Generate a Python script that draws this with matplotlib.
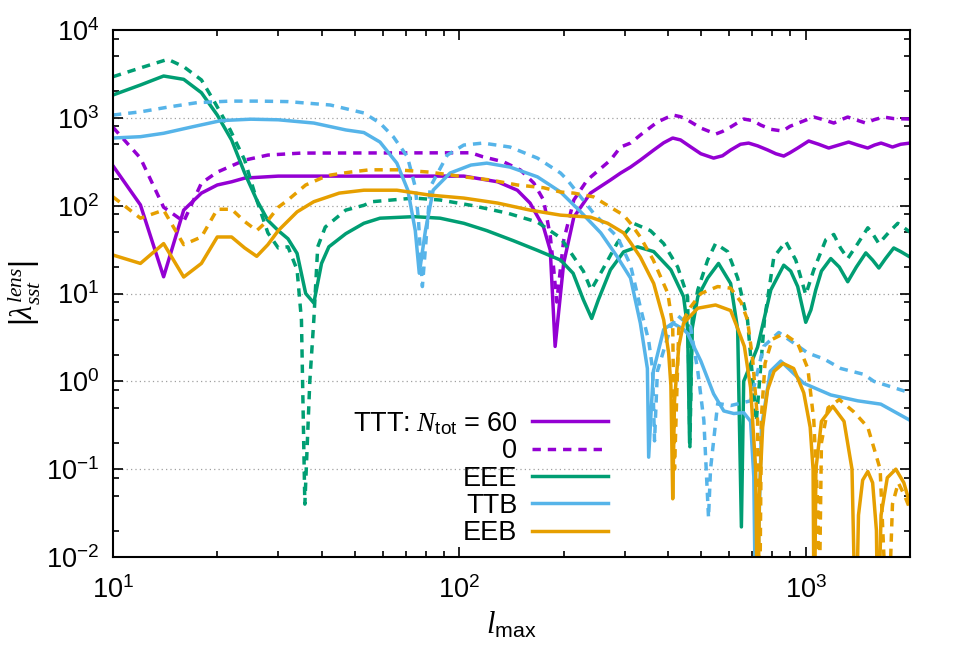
import matplotlib
matplotlib.use('Agg')
import matplotlib.pyplot as plt
from matplotlib.lines import Line2D
from matplotlib.ticker import LogLocator, NullFormatter

plt.rcParams['font.family'] = ['Liberation Sans', 'DejaVu Sans']
plt.rcParams['mathtext.fontset'] = 'custom'
plt.rcParams['mathtext.rm'] = 'Liberation Sans'
plt.rcParams['mathtext.it'] = 'Liberation Serif:italic'
plt.rcParams['mathtext.bf'] = 'Liberation Sans:bold'
plt.rcParams['mathtext.sf'] = 'Liberation Sans'

# TTT, N_tot = 60 (solid) and 0 (dashed)
ttt60_l = [10, 12, 14, 16, 18, 20, 22, 24, 30, 60, 103, 129, 147, 160, 175, 183, 189, 200, 214, 239,
           273, 292, 312, 333, 364, 389, 413, 435, 466, 498, 542, 575, 607, 648, 684, 726, 777, 820, 864, 900,
           948, 1020, 1090, 1165, 1245, 1330, 1413, 1510, 1580, 1650, 1715, 1780, 1880, 2000]
ttt60 = [284, 102, 15.5, 89, 139, 172, 187, 206, 217, 217, 217, 187, 150, 107, 57, 31, 2.5, 22, 74, 139,
         196, 235, 275, 330, 430, 520, 589, 560, 465, 390, 348, 370, 430, 500, 516, 480, 430, 390, 367, 400,
         453, 545, 500, 453, 490, 530, 490, 453, 490, 516, 490, 465, 500, 516]
ttt0_l = [10, 12, 14, 16, 18, 20, 24, 28, 35, 108, 117, 134, 150, 164, 175, 183, 187, 191, 200, 214,
          234, 273, 292, 312, 333, 373, 413, 435, 456, 498, 550, 575, 607, 662, 703, 741, 793, 858, 900, 968,
          1055, 1128, 1205, 1263, 1322, 1395, 1490, 1573, 1679, 1795, 2000]
ttt0 = [780, 348, 96, 66, 181, 241, 330, 377, 397, 400, 360, 316, 255, 181, 116, 45, 20, 8, 40, 116,
        196, 330, 465, 516, 637, 896, 1077, 1030, 944, 765, 654, 700, 786, 969, 930, 828, 740, 707, 800, 896,
        1021, 950, 872, 950, 1021, 950, 872, 950, 1021, 980, 969]

# EEE
eee60_l = [10, 12, 14, 16, 18, 20, 22, 24, 26, 28, 30, 32, 34, 36, 38, 40, 42, 47, 53, 59,
           74, 88, 103, 120, 143, 168, 196, 213, 228, 241, 252, 273, 298, 327, 364, 408, 444, 456, 462, 470,
           488, 521, 560, 607, 636, 652, 662, 726, 793, 864, 905, 948, 1000, 1035, 1069, 1110, 1181, 1250, 1322, 1400,
           1491, 1560, 1626, 1700, 1795, 1880, 2000]
eee60 = [1820, 2365, 2993, 2744, 1932, 1076, 559, 235, 116, 68, 52, 42, 28.6, 10, 7.8, 22, 34, 48, 63, 72,
         75, 72, 63, 52, 40, 31, 24, 17, 8.5, 5.2, 8.5, 18.6, 29.8, 34, 30, 18.6, 9.2, 4, 0.2, 4,
         9.2, 15, 22, 13, 3.9, 0.022, 1.0, 2.45, 11, 21, 18, 12, 4.7, 6.5, 11, 18, 25, 20, 13.6, 20,
         29, 24, 19.5, 25, 33, 30, 26]
eee0_l = [10, 12, 14.4, 16, 18, 19.5, 21.8, 24, 26, 28, 30, 32, 34, 35, 35.8, 37, 38, 39, 41, 47,
          53, 56, 74, 88, 108, 138, 168, 196, 210, 228, 240, 259, 286, 318, 356, 389, 427, 456, 463, 470,
          488, 521, 549, 595, 636, 679, 720, 760, 809, 876, 936, 1000, 1055, 1143, 1205, 1260, 1322, 1413, 1511, 1560,
          1626, 1740, 1844, 2000]
eee0 = [2940, 3700, 4640, 3820, 2700, 1590, 728, 330, 116, 49, 33, 34, 18.6, 5, 0.04, 1, 5, 34, 57, 89,
        101, 111, 122, 116, 101, 82, 65, 43, 29, 18, 11, 18.6, 38, 63, 52, 37, 20, 9.2, 0.18, 5,
        11, 24, 37, 30, 15, 5, 0.35, 5, 26, 39, 24, 9.7, 18.6, 41, 47, 33, 25, 37, 56, 48,
        37, 50, 63, 50]

# TTB
ttb60_l = [10, 12, 14, 17, 20.5, 25, 30, 38, 47, 53, 59, 66, 71, 74.6, 76.6, 79.8, 84, 94, 108, 120,
           140, 168, 196, 224, 256, 286, 312, 333, 349, 352, 363, 389, 413, 444, 456, 498, 542, 580, 620, 662,
           693, 708, 718, 745, 790, 847, 987, 1181, 1413, 1647, 2000]
ttb60 = [589, 610, 667, 792, 930, 965, 950, 872, 728, 680, 530, 305, 150, 52, 17, 52, 150, 235, 290, 305,
         275, 213, 143, 85, 49, 26, 15, 4.6, 1.4, 0.137, 1.3, 3.9, 4.6, 3.9, 3.5, 1.7, 0.72, 0.46, 0.43, 0.44,
         0.35, 0.082, 0.001, 0.3, 1.3, 1.7, 0.95, 0.7, 0.6, 0.55, 0.36]
ttb0_l = [10, 12, 14.5, 17.5, 21.8, 26.5, 32, 42.4, 53, 59, 64.5, 70.8, 74.6, 76.2, 78.2, 82.4, 92.3, 103, 117, 140,
          168, 196, 205, 244, 286, 312, 333, 352, 361, 366, 373, 408, 427, 465, 488, 508, 524, 531, 557, 607,
          693, 756, 836, 1014, 1128, 1263, 1471, 1573, 2000]
ttb0 = [1076, 1170, 1330, 1490, 1550, 1550, 1530, 1400, 1136, 872, 607, 360, 163, 68, 12, 163, 377, 490, 516, 465,
        348, 235, 196, 82, 44, 21, 7, 2.9, 1.4, 0.21, 1.3, 4.2, 5.6, 4.2, 1.3, 0.36, 0.028, 0.1, 0.56, 0.53,
        0.6, 2.5, 3.6, 2.1, 1.8, 1.4, 1.2, 1.0, 0.74]

# EEB
eeb60_l = [10, 12, 14, 16, 18, 20, 22, 24, 26, 28, 30, 34, 38, 45, 53, 66, 82, 103, 129, 160,
           196, 239, 268, 298, 312, 333, 364, 389, 402, 408, 413, 418, 430, 444, 488, 549, 607, 636, 665, 693,
           717, 726, 735, 751, 776, 810, 860, 923, 987, 1030, 1050, 1058, 1070, 1110, 1197, 1290, 1360, 1395, 1420, 1460,
           1511, 1560, 1600, 1615, 1650, 1720, 1820, 1920, 2000]
eeb60 = [27.4, 22, 37, 15.4, 22, 44, 44, 33, 26.5, 36, 52, 85, 111, 139, 150, 150, 132, 122, 107, 89,
         78, 74, 63, 49, 38, 26, 13, 5, 2.1, 0.9, 0.046, 0.6, 2.5, 4.6, 6.8, 7.4, 6.4, 4.0, 2.5, 0.85,
         0.1, 0.001, 0.05, 0.3, 0.8, 1.3, 1.6, 1.4, 0.74, 0.3, 0.1, 0.001, 0.1, 0.35, 0.52, 0.35, 0.1, 0.001, 0.03, 0.075,
         0.094, 0.07, 0.02, 0.001, 0.03, 0.08, 0.1, 0.07, 0.04]
eeb0_l = [10, 12, 14, 16, 18, 20, 22, 24, 26, 28, 30, 32, 36, 40, 42.4, 48.4, 55, 66, 82, 103,
          123, 147, 175, 196, 214, 244, 273, 298, 312, 333, 363, 400, 413, 418, 430, 465, 498, 557, 607, 650,
          679, 703, 726, 735, 745, 763, 800, 864, 948, 1014, 1055, 1083, 1090, 1110, 1160, 1250, 1376, 1511, 1640, 1725,
          1780, 1850, 1930, 2000]
eeb0 = [126, 72, 89, 36, 44, 91, 91, 66, 52, 68, 96, 116, 172, 206, 223, 241, 256, 256, 241, 213,
        196, 172, 160, 143, 139, 126, 96, 78, 63, 44, 24, 10, 4.2, 0.1, 4.0, 7, 10, 12, 11.5, 8,
        5, 1.74, 0.36, 0.001, 0.4, 1.6, 3.0, 3.5, 2.7, 1.4, 0.36, 0.04, 0.001, 0.2, 0.5, 0.62, 0.45, 0.3, 0.1, 0.001,
        0.04, 0.07, 0.05, 0.035]

purple = '#9400D3'
green = '#009E73'
blue = '#56B4E9'
orange = '#E69F00'
dash = (0, (2.4, 2.0))
lw = 2.5

fig = plt.figure(figsize=(9.58, 6.69), dpi=100)
ax = fig.add_axes([113/958, 1 - 557/669, (910-113)/958, (557-30)/669])

ax.plot(ttt60_l, ttt60, color=purple, lw=lw)
ax.plot(ttt0_l, ttt0, color=purple, lw=lw, ls=dash)
ax.plot(eee60_l, eee60, color=green, lw=lw)
ax.plot(eee0_l, eee0, color=green, lw=lw, ls=dash)
ax.plot(ttb60_l, ttb60, color=blue, lw=lw)
ax.plot(ttb0_l, ttb0, color=blue, lw=lw, ls=dash)
ax.plot(eeb60_l, eeb60, color=orange, lw=lw)
ax.plot(eeb0_l, eeb0, color=orange, lw=lw, ls=dash)

ax.set_xscale('log')
ax.set_yscale('log')
ax.set_xlim(10, 2000)
ax.set_ylim(1e-2, 1e4)

ax.yaxis.set_major_locator(LogLocator(base=10, numticks=20))
ax.yaxis.set_minor_locator(LogLocator(base=10, subs=(2, 5, 8), numticks=20))
ax.yaxis.set_minor_formatter(NullFormatter())
ax.xaxis.set_minor_formatter(NullFormatter())

for yv in [1e-1, 1e0, 1e1, 1e2, 1e3]:
    ax.axhline(yv, color='#a0a0a0', lw=0.9, ls=(0, (1, 2.5)), zorder=0)

ax.tick_params(which='both', direction='in', top=True, right=True, labelsize=19.5, width=1.2)
ax.tick_params(which='major', length=7)
ax.tick_params(axis='y', which='major', pad=10)
ax.tick_params(axis='x', which='major', pad=14)
ax.tick_params(which='minor', length=4)
for s in ax.spines.values():
    s.set_linewidth(1.5)

ax.set_xlabel(r'$l_{\rm max}$', fontsize=22, labelpad=4)
ax.set_ylabel(r'$|\lambda^{lens}_{sst}|$', fontsize=22, labelpad=2)

handles = [Line2D([], [], color=purple, lw=lw),
           Line2D([], [], color=purple, lw=lw, ls=dash),
           Line2D([], [], color=green, lw=lw),
           Line2D([], [], color=blue, lw=lw),
           Line2D([], [], color=orange, lw=lw)]
labels = [r'TTT:$\ N_{\rm tot}\ $= 60', '0', 'EEE', 'TTB', 'EEB']
ax.legend(handles, labels, loc='upper right', bbox_to_anchor=(608/958, 1 - 410/669),
          bbox_transform=fig.transFigure, markerfirst=False, frameon=False, fontsize=19.5,
          handlelength=2.8, handletextpad=0.55, labelspacing=0.05, borderpad=0, borderaxespad=0)

fig.savefig('out.png', dpi=100)
